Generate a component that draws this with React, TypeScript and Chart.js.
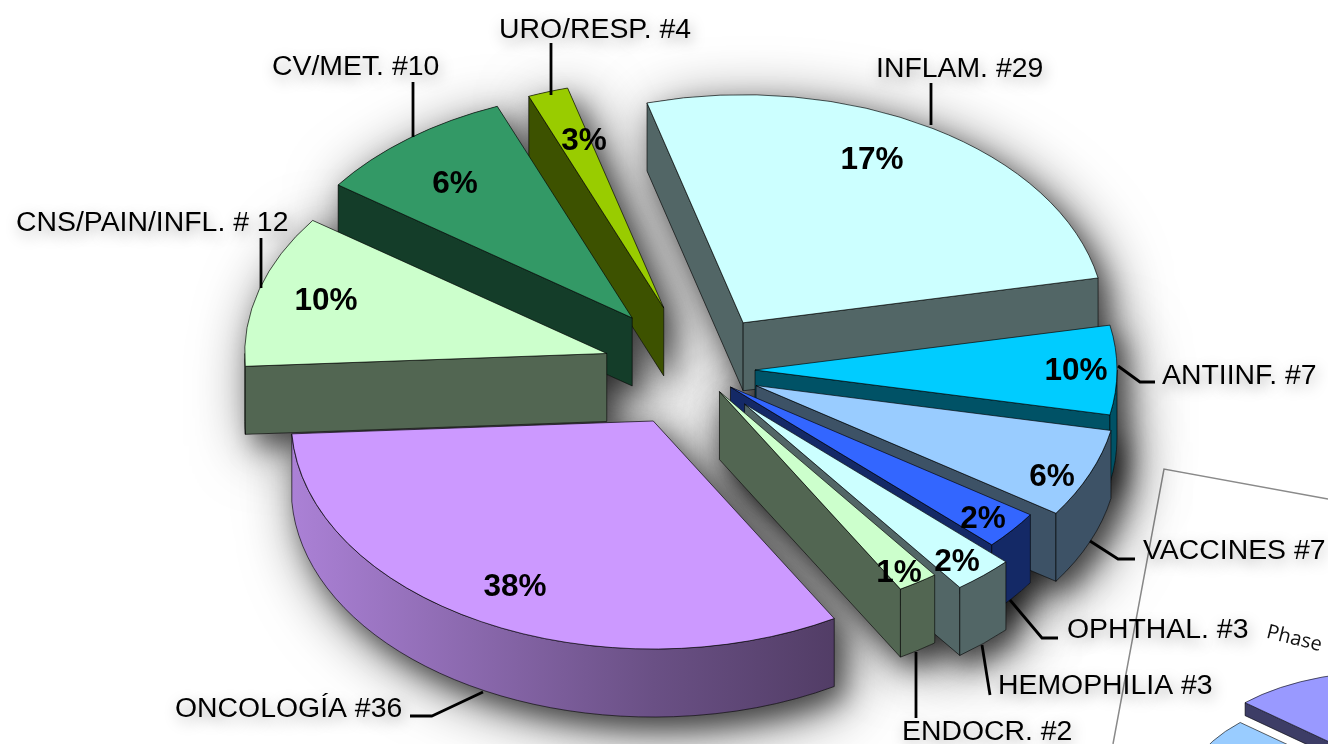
import React, { useEffect, useRef } from "react";
import { Chart, registerables } from "chart.js";

Chart.register(...registerables);

// ---- data ----
const categories = ["INFLAM. #29", "ANTIINF. #7", "VACCINES #7", "OPHTHAL. #3", "HEMOPHILIA #3", "ENDOCR. #2", "ONCOLOGÍA #36", "CNS/PAIN/INFL. # 12", "CV/MET. #10", "URO/RESP. #4"];
const sliceValues = [29, 7, 7, 3, 3, 2, 36, 12, 10, 2];
const percentLabels = ["17%", "10%", "6%", "2%", "2%", "1%", "38%", "10%", "6%", "3%"];
const sliceColors = ["#CCFFFF", "#00CCFF", "#99CCFF", "#3366FF", "#CCFFFF", "#CCFFCC", "#CC99FF", "#CCFFCC", "#339966", "#99CC00"];
const sliceExplode = [88, 58, 64, 43, 72, 41, 92, 94, 105, 104];

const insetValues = [30, 40, 30];
const insetColors = ["#9999FF", "#CCCCFF", "#99CCFF"];
const insetExplode = [40, 0, 0];

// ---- layout of the texts and leader lines ----
const labelAnchors: [number, number][] = [[876, 69], [1162, 376], [1143, 551], [1067, 630], [998, 686], [902, 732], [175, 709], [16, 223], [272, 67], [499, 30]];
const percentAnchors: [number, number][] = [[872, 160], [1076, 371], [1052, 477], [983, 519], [957, 562], [899, 573], [515, 587], [326, 301], [455, 184], [584, 141]];
const leaderPaths: [number, number][][] = [
  [[931, 83], [931, 125]],
  [[1118, 366], [1140, 382], [1155, 382]],
  [[1090, 541], [1118, 559], [1135, 559]],
  [[1010, 600], [1042, 638], [1058, 638]],
  [[982, 645], [990, 695]],
  [[916, 652], [916, 718]],
  [[483, 692], [432, 716], [410, 716]],
  [[261, 238], [261, 288]],
  [[413, 82], [413, 137]],
  [[551, 43], [551, 95]],
];

const SANS = '"Liberation Sans", Arial, sans-serif';

function shade(hex: string, f: number) {
  const n = parseInt(hex.slice(1), 16);
  const r = Math.round(((n >> 16) & 255) * f);
  const g = Math.round(((n >> 8) & 255) * f);
  const b = Math.round((n & 255) * f);
  return `rgb(${r},${g},${b})`;
}

function hull(points: [number, number][]) {
  const p = [...points].sort((a, b) => a[0] - b[0] || a[1] - b[1]);
  const cross = (o: number[], a: number[], b: number[]) => (a[0] - o[0]) * (b[1] - o[1]) - (a[1] - o[1]) * (b[0] - o[0]);
  const lower: [number, number][] = [];
  for (const q of p) {
    while (lower.length >= 2 && cross(lower[lower.length - 2], lower[lower.length - 1], q) <= 0) lower.pop();
    lower.push(q);
  }
  const upper: [number, number][] = [];
  for (const q of p.reverse()) {
    while (upper.length >= 2 && cross(upper[upper.length - 2], upper[upper.length - 1], q) <= 0) upper.pop();
    upper.push(q);
  }
  return lower.slice(0, -1).concat(upper.slice(0, -1));
}

// Tilts the pie: every arc element is moved out along its own mid-angle,
// the canvas is squashed vertically and the rim is extruded below each arc.
const tiltPlugin = {
  id: "tilt3d",
  afterDatasetsUpdate(chart: any, _args: any, opts: any) {
    const arcs = chart.getDatasetMeta(0).data;
    arcs.forEach((arc: any, i: number) => {
      const mid = (arc.startAngle + arc.endAngle) / 2;
      const o = opts.explode[i] || 0;
      arc.x += Math.cos(mid) * o;
      arc.y += Math.sin(mid) * o;
    });
  },
  beforeDatasetsDraw(chart: any, _args: any, opts: any) {
    const ctx: CanvasRenderingContext2D = chart.ctx;
    const cx = (chart.chartArea.left + chart.chartArea.right) / 2;
    const cy = (chart.chartArea.top + chart.chartArea.bottom) / 2;
    const k = opts.squash;
    const d = opts.depth / k;
    ctx.save();
    ctx.translate(cx, cy);
    ctx.scale(1, k);
    ctx.translate(-cx, -cy);

    const arcs: any[] = [...chart.getDatasetMeta(0).data];

    // soft drop shadow under each whole block: a wide haze and a tighter core
    if (opts.shadow) {
      const passes: [string, number][] = [["rgba(0,0,0,0.6)", 60], ["rgba(0,0,0,0.5)", 26]];
      for (const [color, blur] of passes) {
        for (const arc of arcs) {
          const pts: [number, number][] = [[arc.x, arc.y], [arc.x, arc.y + d]];
          for (let t = 0; t <= 24; t++) {
            const a = arc.startAngle + ((arc.endAngle - arc.startAngle) * t) / 24;
            const px = arc.x + Math.cos(a) * arc.outerRadius;
            const py = arc.y + Math.sin(a) * arc.outerRadius;
            pts.push([px, py], [px, py + d]);
          }
          const h = hull(pts);
          ctx.save();
          ctx.shadowColor = color;
          ctx.shadowBlur = blur;
          ctx.shadowOffsetX = 10;
          ctx.shadowOffsetY = 12;
          ctx.fillStyle = "#888";
          ctx.beginPath();
          h.forEach((q, i) => (i ? ctx.lineTo(q[0], q[1]) : ctx.moveTo(q[0], q[1])));
          ctx.closePath();
          ctx.fill();
          ctx.restore();
        }
      }
    }

    arcs.sort((a, b) => a.y + Math.sin((a.startAngle + a.endAngle) / 2) * a.outerRadius - (b.y + Math.sin((b.startAngle + b.endAngle) / 2) * b.outerRadius));
    ctx.lineWidth = 1;
    ctx.strokeStyle = "rgba(0,0,0,0.75)";
    for (const arc of arcs) {
      const { x, y, startAngle: a0, endAngle: a1, outerRadius: R } = arc;
      const top = arc.options.backgroundColor as string;
      const face = (a: number) => {
        ctx.beginPath();
        ctx.moveTo(x, y);
        ctx.lineTo(x + Math.cos(a) * R, y + Math.sin(a) * R);
        ctx.lineTo(x + Math.cos(a) * R, y + Math.sin(a) * R + d);
        ctx.lineTo(x, y + d);
        ctx.closePath();
        ctx.fillStyle = shade(top, 0.4);
        ctx.fill();
        ctx.stroke();
      };
      if (Math.cos(a0) < 0) face(a0);
      if (Math.cos(a1) > 0) face(a1);
      for (let n = -1; n <= 2; n++) {
        const lo = Math.max(a0, 2 * Math.PI * n);
        const hi = Math.min(a1, Math.PI + 2 * Math.PI * n);
        if (lo >= hi) continue;
        const g = ctx.createLinearGradient(x - R, 0, x + R, 0);
        g.addColorStop(0, shade(top, 0.84));
        g.addColorStop(0.5, shade(top, 0.52));
        g.addColorStop(0.75, shade(top, 0.4));
        g.addColorStop(1, shade(top, 0.4));
        ctx.beginPath();
        ctx.arc(x, y, R, lo, hi);
        ctx.arc(x, y + d, R, hi, lo, true);
        ctx.closePath();
        ctx.fillStyle = g;
        ctx.fill();
        ctx.stroke();
      }
    }
  },
  afterDatasetsDraw(chart: any) {
    chart.ctx.restore();
  },
};

// The tilted sheet behind the pie, with the caption that shows on it.
const sheetPlugin = {
  id: "sheet",
  beforeDraw(chart: any) {
    const ctx: CanvasRenderingContext2D = chart.ctx;
    ctx.save();
    ctx.fillStyle = "#ffffff";
    ctx.fillRect(0, 0, chart.width, chart.height);
    ctx.strokeStyle = "#8a8a8a";
    ctx.lineWidth = 1.5;
    ctx.beginPath();
    ctx.moveTo(1113, 744);
    ctx.lineTo(1164, 469);
    ctx.lineTo(1328, 499);
    ctx.stroke();
    ctx.translate(1267, 632);
    ctx.rotate((14 * Math.PI) / 180);
    ctx.fillStyle = "#111";
    ctx.font = '20px "Open Sans", sans-serif';
    ctx.textBaseline = "middle";
    ctx.fillText("Phase", 0, 0);
    ctx.restore();
  },
};

const labelPlugin = {
  id: "pieLabels",
  afterDraw(chart: any) {
    const ctx: CanvasRenderingContext2D = chart.ctx;
    ctx.save();
    ctx.lineWidth = 2.8;
    ctx.strokeStyle = "#000";
    ctx.lineJoin = "round";
    leaderPaths.forEach((path) => {
      ctx.beginPath();
      path.forEach((p, i) => (i ? ctx.lineTo(p[0], p[1]) : ctx.moveTo(p[0], p[1])));
      ctx.stroke();
    });
    ctx.textBaseline = "middle";
    ctx.fillStyle = "#000";
    ctx.font = `28.4px ${SANS}`;
    ctx.textAlign = "left";
    ctx.shadowColor = "rgba(0,0,0,0.34)";
    ctx.shadowBlur = 14;
    ctx.shadowOffsetX = 2;
    ctx.shadowOffsetY = 5;
    categories.forEach((c, i) => ctx.fillText(c, labelAnchors[i][0], labelAnchors[i][1]));
    ctx.shadowColor = "transparent";
    ctx.font = `bold 31.5px ${SANS}`;
    ctx.textAlign = "center";
    percentLabels.forEach((c, i) => ctx.fillText(c, percentAnchors[i][0], percentAnchors[i][1]));
    ctx.restore();
  },
};

function pieConfig(values: number[], labels: string[], colors: string[], rotation: number, radius: number, padding: object, tilt: object, plugins: any[]) {
  return {
    type: "pie" as const,
    data: {
      labels,
      datasets: [{ data: values, backgroundColor: colors, borderColor: "rgba(0,0,0,0.8)", borderWidth: 1, hoverOffset: 0, clip: false }],
    },
    options: {
      responsive: false,
      animation: false as const,
      events: [],
      rotation,
      radius,
      layout: { padding },
      plugins: { legend: { display: false }, tooltip: { enabled: false }, tilt3d: tilt },
    },
    plugins,
  };
}

export default function App() {
  const mainRef = useRef<HTMLCanvasElement>(null);
  const insetRef = useRef<HTMLCanvasElement>(null);
  useEffect(() => {
    const main = new Chart(
      mainRef.current!,
      pieConfig(sliceValues, categories, sliceColors, -15.4, 362, { left: 66, bottom: 4 }, { squash: 0.63, depth: 68, explode: sliceExplode, shadow: true }, [sheetPlugin, tiltPlugin, labelPlugin]) as any
    );
    const inset = new Chart(
      insetRef.current!,
      pieConfig(insetValues, ["", "", ""], insetColors, -47, 198, {}, { squash: 0.5, depth: 13, explode: insetExplode, shadow: false }, [tiltPlugin]) as any
    );
    return () => {
      main.destroy();
      inset.destroy();
    };
  }, []);
  return (
    <div style={{ position: "absolute", left: 0, top: 0, width: 1328, height: 744, overflow: "hidden", background: "#fff" }}>
      <canvas ref={mainRef} width={1328} height={744} style={{ position: "absolute", left: 0, top: 0 }} />
      <canvas ref={insetRef} width={570} height={380} style={{ position: "absolute", left: 1100, top: 600 }} />
    </div>
  );
}
